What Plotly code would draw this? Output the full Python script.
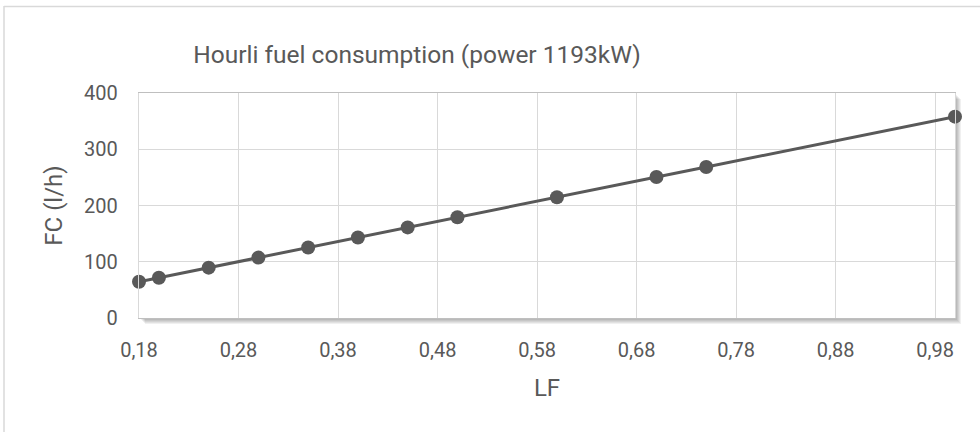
import plotly.graph_objects as go

# load factor vs hourly fuel consumption
lf = [0.18, 0.20, 0.25, 0.30, 0.35, 0.40, 0.45, 0.50, 0.60, 0.70, 0.75, 1.00]
fc = [64.4, 71.6, 89.5, 107.4, 125.3, 143.2, 161.1, 179.0, 214.8, 250.6, 268.5, 358.0]

x_ticks = [0.18, 0.28, 0.38, 0.48, 0.58, 0.68, 0.78, 0.88, 0.98]
y_ticks = [0, 100, 200, 300, 400]

GREY = "#595959"
GRID = "#d9d9d9"
FONT = "Roboto, Open Sans, sans-serif"

W, H = 980, 432
L, R, T, B = 139, 25, 93, 114
pw, ph = W - L - R, H - T - B


def px_x(p):
    return (p - L) / pw


def px_y(p):
    return (H - B - p) / ph


fig = go.Figure()
fig.add_trace(go.Scatter(
    x=lf, y=fc, mode="lines+markers",
    line=dict(color=GREY, width=3),
    marker=dict(color=GREY, size=14),
    cliponaxis=False,
    showlegend=False,
))

shapes = []
# soft drop shadow under the plot area
for k in range(1, 7):
    shapes.append(dict(
        type="rect", xref="paper", yref="paper", layer="below",
        x0=px_x(L + k), x1=px_x(L + pw + k), y0=px_y(H - B + k), y1=px_y(T + k),
        line=dict(width=0), fillcolor="rgba(0,0,0,0.06)",
    ))
shapes.append(dict(
    type="rect", xref="paper", yref="paper", layer="below",
    x0=0, x1=1, y0=0, y1=1, line=dict(width=0), fillcolor="white",
))
# outer chart frame (top and left edges visible)
shapes.append(dict(type="line", xref="paper", yref="paper",
                   x0=px_x(4), x1=px_x(W + 5), y0=px_y(6.5), y1=px_y(6.5),
                   line=dict(color=GRID, width=1.5)))
shapes.append(dict(type="line", xref="paper", yref="paper",
                   x0=px_x(4), x1=px_x(4), y0=px_y(6), y1=px_y(H + 5),
                   line=dict(color=GRID, width=1.5)))

fig.update_layout(
    width=W, height=H,
    margin=dict(l=L, r=R, t=T, b=B),
    paper_bgcolor="white",
    plot_bgcolor="white",
    separators=", ",
    font=dict(family=FONT, size=20, color=GREY),
    title=dict(
        text="Hourli fuel consumption (power 1193kW)",
        x=417 / W, xanchor="center", xref="container",
        y=1 - 54 / H, yanchor="middle", yref="container",
        font=dict(family=FONT, size=24.5, color=GREY),
    ),
    shapes=shapes,
)
fig.update_xaxes(
    range=[0.18, 1.0], tickvals=x_ticks, tickformat=".2f",
    showgrid=True, gridcolor=GRID, gridwidth=1.3,
    showline=True, linecolor="#bfbfbf", linewidth=1.3, mirror=True,
    zeroline=False, ticks="", ticklabelstandoff=14,
    title=dict(text="LF", font=dict(family=FONT, size=24, color=GREY), standoff=18),
)
fig.update_yaxes(
    range=[0, 400], tickvals=y_ticks,
    showgrid=True, gridcolor=GRID, gridwidth=1.3,
    showline=True, linecolor=GRID, linewidth=1.3, mirror=True,
    zeroline=False, ticks="", ticklabelstandoff=16,
    title=dict(text="FC (l/h)", font=dict(family=FONT, size=24, color=GREY), standoff=14),
)

# drop the default 8px page margin so the figure sits at the window origin
fig.write_html(
    "out.html",
    config={"displayModeBar": False},
    post_script="document.body.style.margin='0px';",
)
